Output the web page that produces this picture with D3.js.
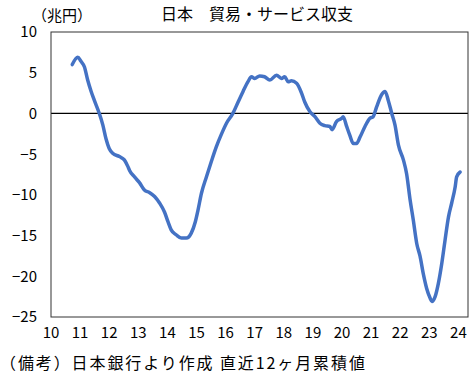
<!DOCTYPE html>
<meta charset="utf-8">
<style>
    body {
        margin: 0;
        background: #fff;
        font-family: "Noto Sans CJK JP", sans-serif;
    }
    text {
        fill: #000;
    }
    .frame {
        fill: none;
        stroke: #333;
        stroke-width: 1;
    }
    .zero {
        stroke: #000;
        stroke-width: 1.2;
    }
    .balance {
        fill: none;
        stroke: #4472C4;
        stroke-width: 3.5;
        stroke-linejoin: round;
        stroke-linecap: round;
    }
    .tick {
        font-size: 15px;
    }
</style>
<body>
<script src="https://d3js.org/d3.v7.min.js"></script>
<script>

    // time in years since 2000 (decimal), 12-month rolling balance in trillion yen
    var yearPos = [10.73, 10.92, 11.03, 11.15, 11.26, 11.38, 11.49, 11.66, 11.78, 11.89,
        12.00, 12.12, 12.35, 12.52, 12.64, 12.70, 12.87, 13.04, 13.21, 13.38,
        13.56, 13.73, 13.90, 14.02, 14.13, 14.30, 14.48, 14.65, 14.82, 14.96,
        15.05, 15.17, 15.34, 15.51, 15.68, 15.85, 16.03, 16.25, 16.43, 16.60,
        16.77, 16.89, 17.00, 17.17, 17.34, 17.52, 17.75, 17.92, 18.03, 18.15,
        18.26, 18.44, 18.61, 18.72, 18.90, 19.07, 19.24, 19.41, 19.58, 19.66,
        19.81, 19.99, 20.04, 20.16, 20.27, 20.39, 20.50, 20.62, 20.79, 20.96,
        21.07, 21.19, 21.36, 21.48, 21.59, 21.71, 21.82, 21.94, 22.11, 22.22,
        22.34, 22.45, 22.57, 22.68, 22.80, 22.91, 23.03, 23.09, 23.20, 23.31,
        23.43, 23.54, 23.66, 23.77, 23.89, 23.94, 24.06];

    var balance = [6.0, 6.9, 6.4, 5.7, 4.1, 2.7, 1.6, 0.0, -1.4, -3.1,
        -4.3, -4.9, -5.3, -5.7, -6.5, -7.0, -7.8, -8.5, -9.4, -9.7,
        -10.2, -11.0, -12.1, -13.3, -14.3, -14.9, -15.3, -15.3, -14.7, -13.3,
        -11.9, -9.8, -7.8, -5.9, -4.1, -2.6, -1.2, 0.0, 1.4, 2.7,
        3.9, 4.5, 4.3, 4.6, 4.5, 4.1, 4.7, 4.3, 4.5, 3.9,
        4.0, 3.7, 2.5, 1.4, 0.2, -0.4, -1.2, -1.5, -1.6, -2.0,
        -1.0, -0.6, -0.4, -1.6, -2.7, -3.7, -3.7, -2.9, -1.6, -0.6,
        -0.4, 0.8, 2.3, 2.7, 1.6, 0.0, -1.4, -3.9, -5.7, -7.4,
        -10.6, -13.1, -16.0, -17.5, -19.8, -21.5, -22.7, -23.1, -22.5, -20.9,
        -18.4, -15.6, -12.7, -11.0, -9.0, -7.8, -7.2];

    var xTicks = [10, 11, 12, 13, 14, 15, 16, 17, 18, 19, 20, 21, 22, 23, 24];
    var yTicks = [10, 5, 0, -5, -10, -15, -20, -25];

    var width = 474,
        height = 388,
        plot = {left: 51, right: 468, top: 32, bottom: 317};

    var x = d3.scaleLinear()
        .domain([10, 24.33])
        .range([plot.left, plot.right]);

    var y = d3.scaleLinear()
        .domain([-25, 10])
        .range([plot.bottom, plot.top]);

    var svg = d3.select("body").append("svg")
        .attr("width", width)
        .attr("height", height);

    var data = yearPos.map(function(d, i) { return {t: d, v: balance[i]}; });

    svg.append("line")
        .attr("class", "zero")
        .attr("x1", plot.left)
        .attr("x2", plot.right)
        .attr("y1", y(0))
        .attr("y2", y(0));

    svg.append("path")
        .datum(data)
        .attr("class", "balance")
        .attr("d", d3.line()
            .x(function(d) { return x(d.t); })
            .y(function(d) { return y(d.v); })
            .curve(d3.curveMonotoneX));

    svg.append("rect")
        .attr("class", "frame")
        .attr("x", plot.left)
        .attr("y", plot.top)
        .attr("width", plot.right - plot.left)
        .attr("height", plot.bottom - plot.top);

    var fmt = d3.format("d");

    svg.append("g").selectAll("text")
        .data(yTicks)
        .enter().append("text")
        .attr("class", "tick")
        .attr("x", 37)
        .attr("y", function(d) { return y(d); })
        .attr("dy", "0.36em")
        .style("text-anchor", "end")
        .text(fmt);

    svg.append("g").selectAll("text")
        .data(xTicks)
        .enter().append("text")
        .attr("class", "tick")
        .attr("x", function(d) { return x(d); })
        .attr("y", 338)
        .style("text-anchor", "middle")
        .text(fmt);

    svg.append("text")
        .attr("x", 257)
        .attr("y", 20)
        .style("text-anchor", "middle")
        .style("font-size", "16px")
        .text("日本　貿易・サービス収支");

    svg.append("text")
        .attr("x", 32)
        .attr("y", 21)
        .style("font-size", "15px")
        .text("（兆円）");

    svg.append("text")
        .attr("x", 0)
        .attr("y", 369)
        .style("font-size", "16px")
        .style("letter-spacing", "1.9px")
        .text("（備考）日本銀行より作成 直近12ヶ月累積値");
</script>
